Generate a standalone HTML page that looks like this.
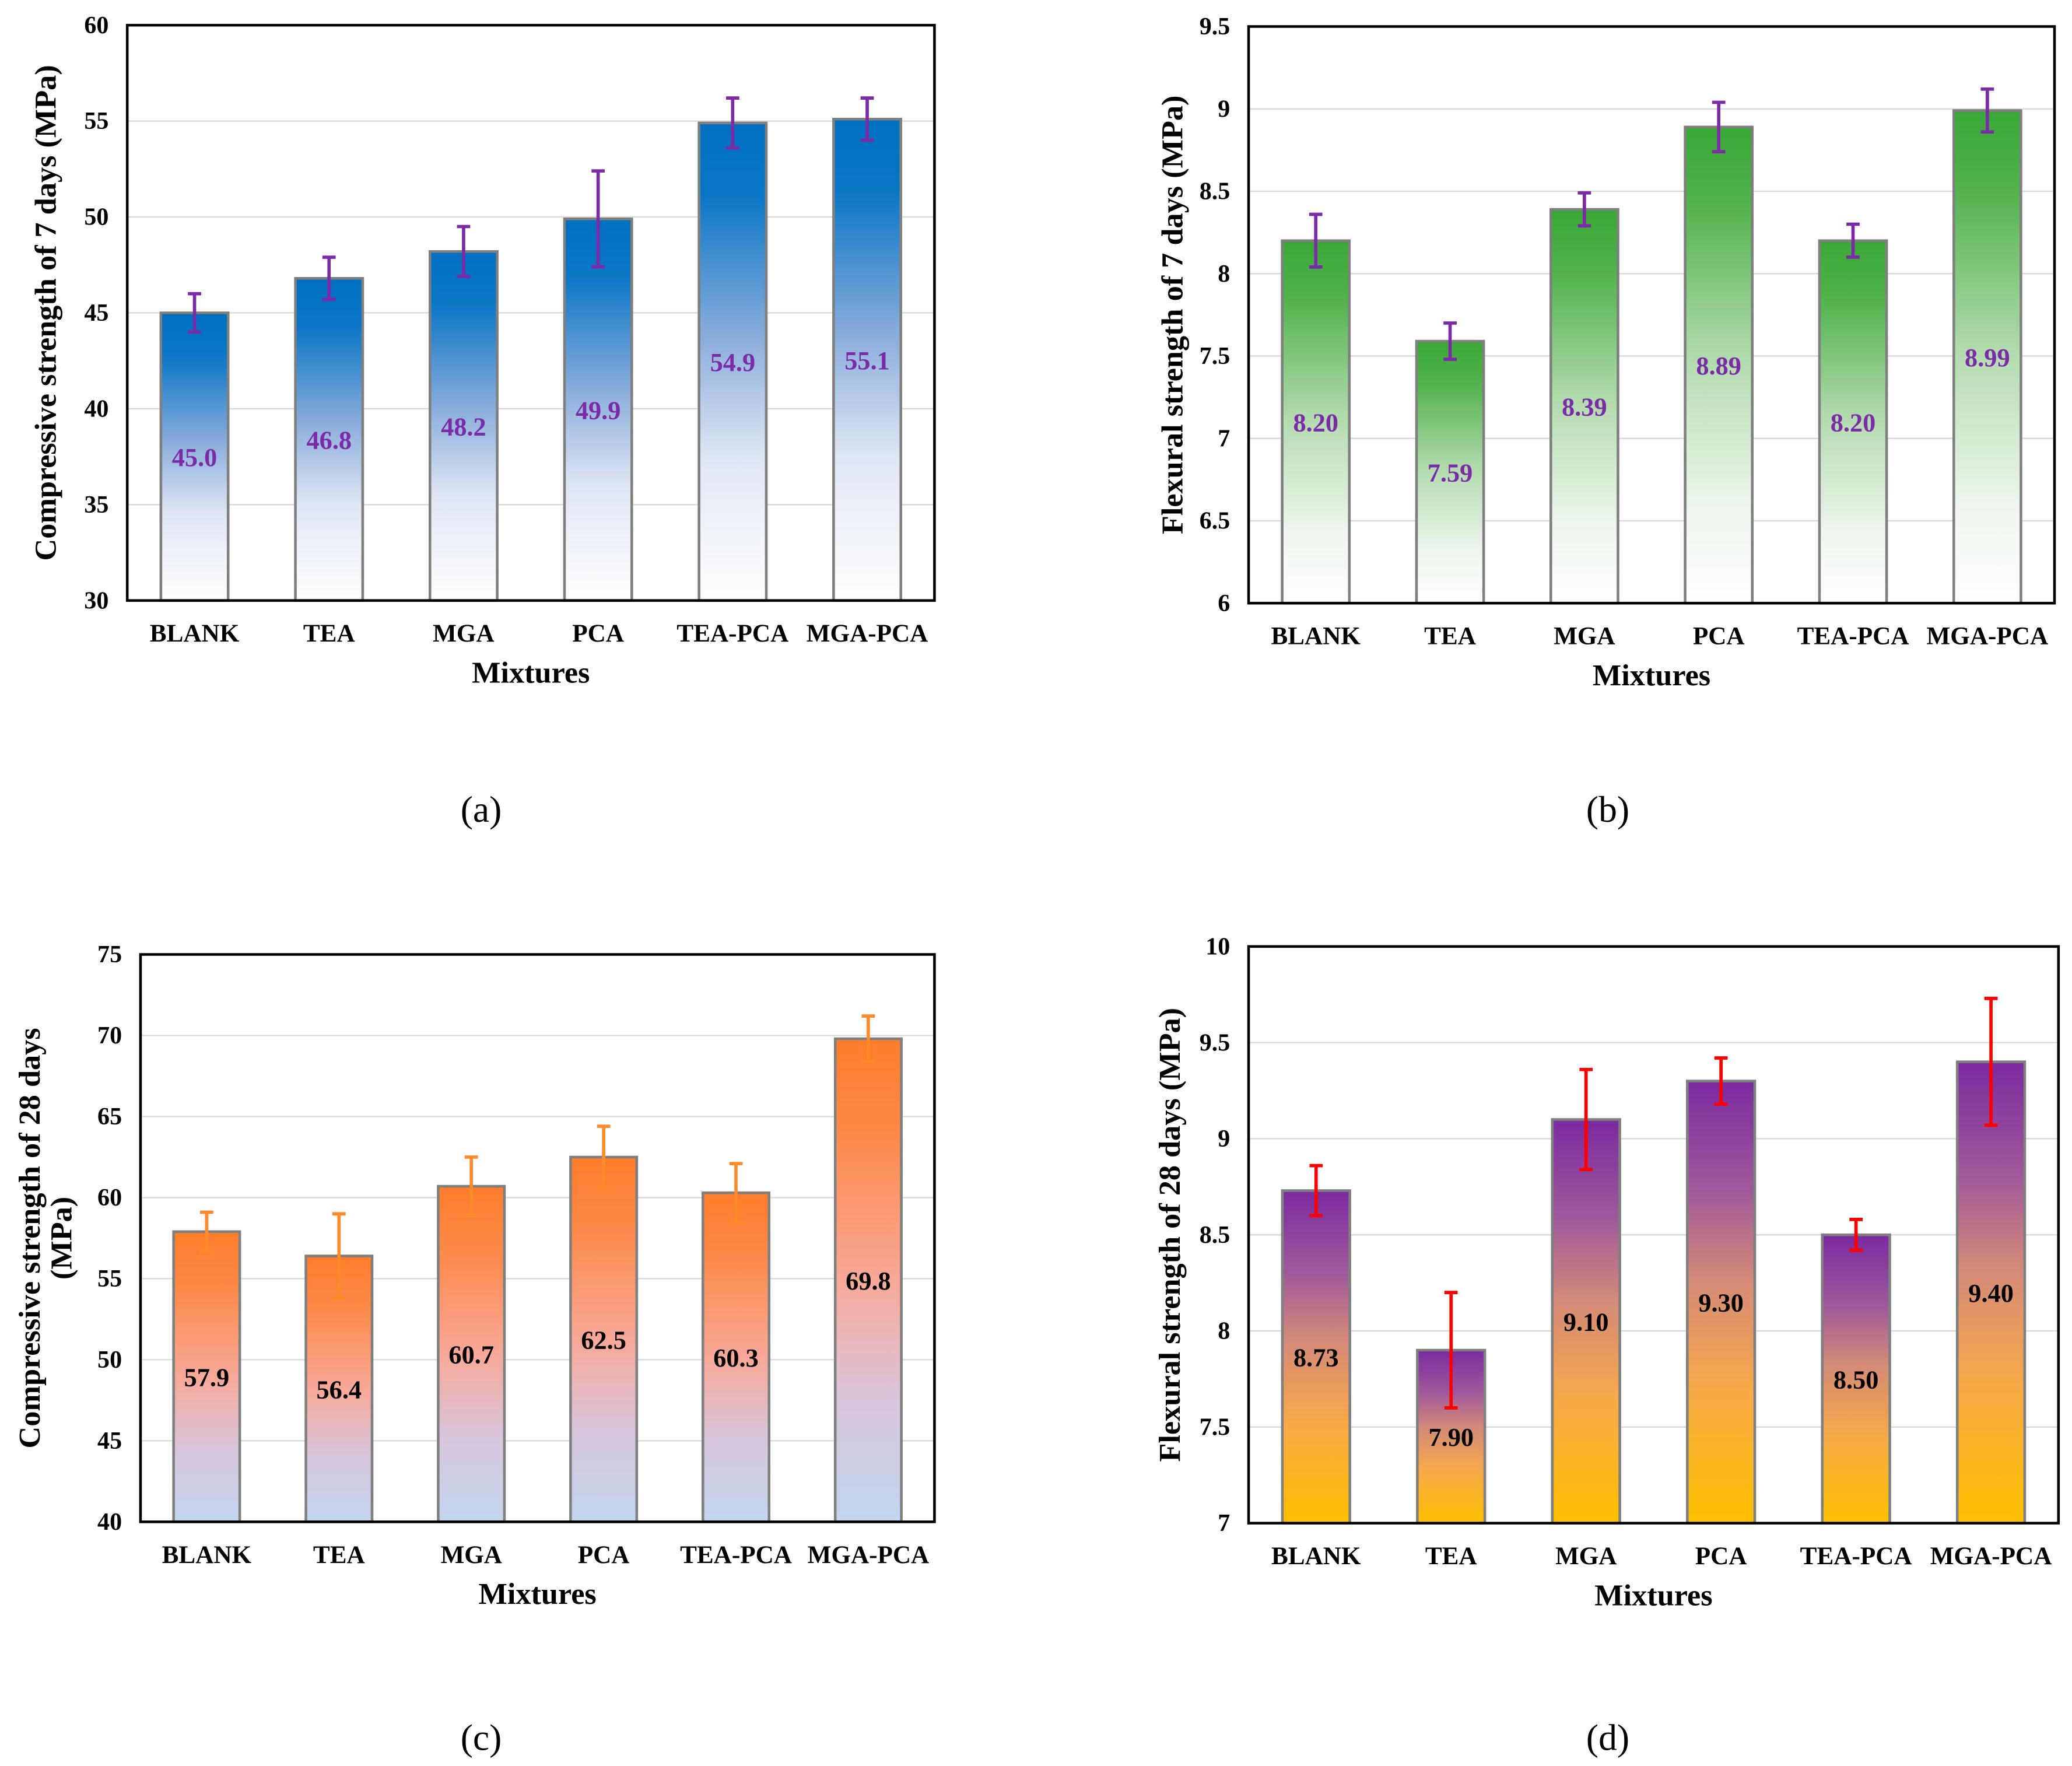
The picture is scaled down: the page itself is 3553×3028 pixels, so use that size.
<!DOCTYPE html>
<html><head><meta charset="utf-8">
<style>
html,body{margin:0;padding:0;background:#fff;}
svg{display:block;}
text{font-family:"Liberation Serif",serif;}
</style></head>
<body>
<svg id="fig" width="3553" height="3028" viewBox="0 0 1563.2 1332.2" preserveAspectRatio="none" xmlns="http://www.w3.org/2000/svg">
<defs>
<linearGradient id="gBlue" x1="0" y1="0" x2="0" y2="1">
<stop offset="0" stop-color="#0070c0"/><stop offset="0.15" stop-color="#0a76c6"/><stop offset="0.45" stop-color="#8aaddb"/><stop offset="0.7" stop-color="#dfe6f3"/><stop offset="1" stop-color="#ffffff"/></linearGradient>
<linearGradient id="gGreen" x1="0" y1="0" x2="0" y2="1">
<stop offset="0" stop-color="#3aa836"/><stop offset="0.15" stop-color="#4fb14a"/><stop offset="0.5" stop-color="#b5dcb1"/><stop offset="0.8" stop-color="#eef6ed"/><stop offset="1" stop-color="#ffffff"/></linearGradient>
<linearGradient id="gOrange" x1="0" y1="0" x2="0" y2="1">
<stop offset="0" stop-color="#ff7c2a"/><stop offset="0.2" stop-color="#fd8a4a"/><stop offset="0.5" stop-color="#f8a898"/><stop offset="0.75" stop-color="#d8c6dc"/><stop offset="1" stop-color="#c2d6ef"/></linearGradient>
<linearGradient id="gPurple" x1="0" y1="0" x2="0" y2="1">
<stop offset="0" stop-color="#7b2aa0"/><stop offset="0.25" stop-color="#a05a9a"/><stop offset="0.45" stop-color="#d48a78"/><stop offset="0.7" stop-color="#f8aa48"/><stop offset="1" stop-color="#ffc000"/></linearGradient>
</defs>
<g id="panels"></g>
</svg>
<script>
var categories = ["BLANK","TEA","MGA","PCA","TEA-PCA","MGA-PCA"];
var valuesA = [45.0,46.8,48.2,49.9,54.9,55.1];
var errorsA = [1.0,1.1,1.3,2.5,1.3,1.1];
var labelsA = ["45.0","46.8","48.2","49.9","54.9","55.1"];
var ticksA = [30,35,40,45,50,55,60];
var valuesB = [8.20,7.59,8.39,8.89,8.20,8.99];
var errorsB = [0.16,0.11,0.10,0.15,0.10,0.13];
var labelsB = ["8.20","7.59","8.39","8.89","8.20","8.99"];
var ticksB = [6,6.5,7,7.5,8,8.5,9,9.5];
var valuesC = [57.9,56.4,60.7,62.5,60.3,69.8];
var errorsC = [1.2,2.6,1.8,1.9,1.8,1.4];
var labelsC = ["57.9","56.4","60.7","62.5","60.3","69.8"];
var ticksC = [40,45,50,55,60,65,70,75];
var valuesD = [8.73,7.90,9.10,9.30,8.50,9.40];
var errorsD = [0.13,0.30,0.26,0.12,0.08,0.33];
var labelsD = ["8.73","7.90","9.10","9.30","8.50","9.40"];
var ticksD = [7,7.5,8,8.5,9,9.5,10];

var NS = "http://www.w3.org/2000/svg";
var root = document.getElementById("panels");
function mk(tag, attrs, parent, txt){
  var e = document.createElementNS(NS, tag);
  for (var k in attrs) e.setAttribute(k, attrs[k]);
  if (txt !== undefined) e.textContent = txt;
  parent.appendChild(e);
  return e;
}
function panel(cfg){
  var g = mk("g", {}, root);
  
  
  var L=cfg.l,T=cfg.t,R=cfg.r,B=cfg.b;
  var ymin=cfg.ticks[0], ymax=cfg.ticks[cfg.ticks.length-1];
  function y(v){ return B - (v-ymin)/(ymax-ymin)*(B-T); }
  var step=(R-L)/cfg.values.length;
  function x(i){ return L + step*(i+0.5); }
  cfg.ticks.forEach(function(t,i){
    if(i>0 && i<cfg.ticks.length-1){
      var gl = mk("line",{x1:L,x2:R,y1:y(t),y2:y(t),stroke:"#d9d9d9","stroke-width":1},g);
      
      
    }
    var tl = mk("text",{x:L-14,y:y(t)+6,"text-anchor":"end","font-size":18.5,"font-weight":"bold"},g,cfg.tickFmt(t));
    
    
  });
  var bw = step*0.5;
  cfg.values.forEach(function(v,i){
    var r = mk("rect",{x:x(i)-bw/2,y:y(v),width:bw,height:B-y(v),fill:"url(#"+cfg.grad+")",stroke:"#7f7f7f","stroke-width":2},g);
    
    
    var e = cfg.errors[i], top=y(v+e), bot=y(v-e);
    var eg = mk("g",{stroke:cfg.errColor,"stroke-width":2.5},g);
    
    
    mk("line",{x1:x(i),x2:x(i),y1:top,y2:bot},eg);
    mk("line",{x1:x(i)-5,x2:x(i)+5,y1:top,y2:top},eg);
    mk("line",{x1:x(i)-5,x2:x(i)+5,y1:bot,y2:bot},eg);
    var vl = mk("text",{x:x(i),y:y((v+ymin)/2)+7,"text-anchor":"middle","font-size":19.5,"font-weight":"bold",fill:cfg.labelColor},g,cfg.labels[i]);
    
    
    var xl = mk("text",{x:x(i),y:B+31,"text-anchor":"middle","font-size":19,"font-weight":"bold"},g,cfg.cats[i]);
    
    
  });
  var fr = mk("rect",{x:L,y:T,width:R-L,height:B-T,fill:"none",stroke:"#000","stroke-width":2},g);
  
  
  var xt = mk("text",{x:(L+R)/2,y:B+62,"text-anchor":"middle","font-size":23,"font-weight":"bold"},g,"Mixtures");
  
  
  var yt = mk("text",{transform:"translate("+cfg.ytx+","+((T+B)/2)+") rotate(-90)","text-anchor":"middle","font-size":23,"font-weight":"bold"},g);
  
  
  cfg.ytitle.forEach(function(line,k){
    mk("tspan",{x:0,dy:(k===0?0:24)},yt,line);
  });
  var pl = mk("text",{x:cfg.px,y:cfg.py,"text-anchor":"middle","font-size":28},g,cfg.plabel);
  
  
}
function fmtInt(t){return String(t);}
panel({name:"chart-a",l:96,t:19,r:705,b:453,values:valuesA,errors:errorsA,labels:labelsA,ticks:ticksA,cats:categories,grad:"gBlue",errColor:"#7b2aa8",labelColor:"#7b2aa8",tickFmt:fmtInt,ytitle:["Compressive strength of 7 days (MPa)"],ytx:42,px:363,py:620,plabel:"(a)"});
panel({name:"chart-b",l:942,t:20,r:1550,b:455,values:valuesB,errors:errorsB,labels:labelsB,ticks:ticksB,cats:categories,grad:"gGreen",errColor:"#7b2aa8",labelColor:"#7b2aa8",tickFmt:fmtInt,ytitle:["Flexural strength of 7 days (MPa)"],ytx:892,px:1213,py:620,plabel:"(b)"});
panel({name:"chart-c",l:106,t:720,r:705,b:1148,values:valuesC,errors:errorsC,labels:labelsC,ticks:ticksC,cats:categories,grad:"gOrange",errColor:"#ff8a2a",labelColor:"#000",tickFmt:fmtInt,ytitle:["Compressive strength of 28 days","(MPa)"],ytx:30,px:363,py:1320,plabel:"(c)"});
panel({name:"chart-d",l:942,t:714,r:1553,b:1149,values:valuesD,errors:errorsD,labels:labelsD,ticks:ticksD,cats:categories,grad:"gPurple",errColor:"#ff0000",labelColor:"#000",tickFmt:fmtInt,ytitle:["Flexural strength of 28 days (MPa)"],ytx:890,px:1213,py:1320,plabel:"(d)"});
</script>
</body></html>
